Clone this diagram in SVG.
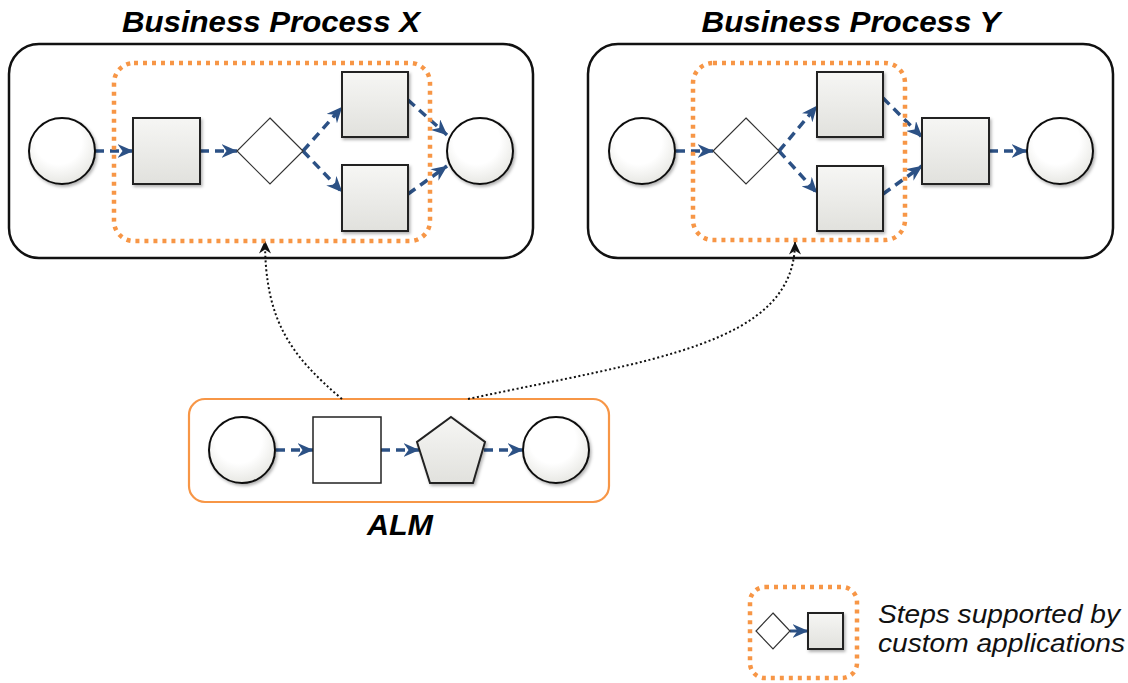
<svg xmlns="http://www.w3.org/2000/svg" width="1128" height="683" viewBox="0 0 1128 683">
<style>
.title{font-family:"Liberation Sans",Arial,sans-serif;font-weight:bold;font-style:italic;font-size:29px;fill:#000}
.legend{font-family:"Liberation Sans",Arial,sans-serif;font-style:italic;font-size:26px;fill:#111}
.pool{fill:#fff;stroke:#111;stroke-width:2.5}
.group{fill:none;stroke:#f79646;stroke-width:4.5;stroke-dasharray:4 5}
.alm{fill:#fff;stroke:#f79646;stroke-width:2.2}
.task{fill:url(#gBox);stroke:#222;stroke-width:2;filter:url(#sh)}
.event{fill:url(#gCirc);stroke:#111;stroke-width:2;filter:url(#sh)}
.gate{fill:#fff;stroke:#333;stroke-width:1.2}
.flow{fill:none;stroke:#2c5185;stroke-width:3.5;stroke-dasharray:9 6;marker-end:url(#ab)}
.link{fill:none;stroke:#111;stroke-width:2;stroke-dasharray:2 2.5;marker-end:url(#ak)}
</style>
<defs>
<linearGradient id="gBox" x1="0" y1="0" x2="0" y2="1">
<stop offset="0" stop-color="#f6f6f4"/><stop offset="1" stop-color="#e1e1dd"/>
</linearGradient>
<radialGradient id="gCirc" cx="0.45" cy="0.35" r="0.7">
<stop offset="0.5" stop-color="#ffffff"/><stop offset="1" stop-color="#e4e4df"/>
</radialGradient>
<filter id="sh" x="-20%" y="-20%" width="150%" height="150%">
<feDropShadow dx="1.5" dy="2" stdDeviation="1.5" flood-color="#000" flood-opacity="0.3"/>
</filter>
<marker id="ab" viewBox="0 0 16 14" refX="15.5" refY="7" markerWidth="16" markerHeight="14" markerUnits="userSpaceOnUse" orient="auto">
<path d="M0,0 L16,7 L0,14 L5,7 Z" fill="#2c5185"/>
</marker>
<marker id="ak" viewBox="0 0 13 12" refX="12.5" refY="6" markerWidth="13" markerHeight="12" markerUnits="userSpaceOnUse" orient="auto">
<path d="M0,0 L13,6 L0,12 L4,6 Z" fill="#111"/>
</marker>
</defs>

<g id="processX">
<rect class="pool" x="9" y="44" width="524" height="214" rx="30"/>
<text class="title" x="271" y="32" text-anchor="middle" textLength="298" lengthAdjust="spacingAndGlyphs">Business Process X</text>
</g>
<g id="processY">
<rect class="pool" x="588" y="44" width="525" height="214" rx="30"/>
<text class="title" x="851" y="32" text-anchor="middle" textLength="299" lengthAdjust="spacingAndGlyphs">Business Process Y</text>
</g>
<g id="alm">
<rect class="alm" x="189" y="399" width="420" height="103" rx="16"/>
<text class="title" x="400" y="535" text-anchor="middle" textLength="66" lengthAdjust="spacingAndGlyphs">ALM</text>
</g>

<g id="connectors">
<path class="flow" d="M95,151 L133,151"/>
<path class="flow" d="M200,151 L237,151"/>
<path class="flow" d="M303,151 L342,107"/>
<path class="flow" d="M303,151 L342,192"/>
<path class="flow" d="M408,100 L447,135"/>
<path class="flow" d="M408,194 L447,166"/>
<path class="flow" d="M676,151 L713,151"/>
<path class="flow" d="M779,151 L817,106"/>
<path class="flow" d="M779,151 L817,193"/>
<path class="flow" d="M883,98 L922,137"/>
<path class="flow" d="M883,194 L922,166"/>
<path class="flow" d="M989,151 L1027,151"/>
<path class="flow" d="M276,450 L313,450"/>
<path class="flow" d="M381,450 L419,450"/>
<path class="flow" d="M484,450 L523,450"/>
<path class="link" d="M342,399 C290,355 265,320 265,241"/>
<path class="link" d="M468,399 C650,360 795,345 795,242"/>
<path d="M790,631 L808,631" fill="none" stroke="#2c5185" stroke-width="3" marker-end="url(#ab)"/>
</g>

<g id="groupX"><rect class="group" x="114" y="63" width="316" height="178" rx="20"/></g>
<g id="groupY"><rect class="group" x="693" y="63" width="212" height="177" rx="20"/></g>

<g id="x-start"><circle class="event" cx="62" cy="151" r="33"/></g>
<g id="x-task1"><rect class="task" x="133" y="118" width="67" height="66"/></g>
<g id="x-gate"><path class="gate" d="M270,118 L303,151 L270,184 L237,151 Z"/></g>
<g id="x-task2"><rect class="task" x="342" y="72" width="66" height="65"/></g>
<g id="x-task3"><rect class="task" x="342" y="165" width="66" height="66"/></g>
<g id="x-end"><circle class="event" cx="480" cy="151" r="33"/></g>

<g id="y-start"><circle class="event" cx="642" cy="151" r="33"/></g>
<g id="y-gate"><path class="gate" d="M746,118 L779,151 L746,184 L713,151 Z"/></g>
<g id="y-task1"><rect class="task" x="817" y="72" width="66" height="65"/></g>
<g id="y-task2"><rect class="task" x="817" y="166" width="66" height="65"/></g>
<g id="y-task3"><rect class="task" x="922" y="118" width="67" height="66"/></g>
<g id="y-end"><circle class="event" cx="1060" cy="151" r="33"/></g>

<g id="alm-start"><circle class="event" cx="242" cy="450" r="33"/></g>
<g id="alm-task"><rect x="313" y="417" width="68" height="66" fill="#fff" stroke="#222" stroke-width="1.5"/></g>
<g id="alm-pent"><path class="task" d="M451,417 L485,442 L473,483 L430,483 L417,442 Z"/></g>
<g id="alm-end"><circle class="event" cx="556" cy="450" r="33"/></g>

<g id="legend">
<rect class="group" x="750" y="587" width="107" height="91" rx="15"/>
<path class="gate" d="M773,613 L790,631 L773,649 L756,631 Z"/>
<rect class="task" x="808" y="613" width="35" height="36"/>
<text class="legend" x="878" y="623" textLength="242" lengthAdjust="spacingAndGlyphs">Steps supported by</text>
<text class="legend" x="878" y="652" textLength="247" lengthAdjust="spacingAndGlyphs">custom applications</text>
</g>
</svg>
